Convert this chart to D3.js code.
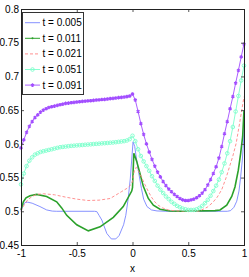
<!DOCTYPE html>
<html>
<head>
<meta charset="utf-8">
<script src="https://cdn.jsdelivr.net/npm/d3@7"></script>
<style>
  body { margin: 0; background: #fff; }
  svg { display: block; font-family: "Liberation Sans", Arial, sans-serif; }
</style>
</head>
<body>
<div id="chart"></div>
<script>
// shared grid for the two marked series (t = 0.051, t = 0.091)
const xGrid = [-1, -0.975, -0.95, -0.925, -0.9, -0.875, -0.85, -0.825, -0.8, -0.775,
  -0.75, -0.725, -0.7, -0.675, -0.65, -0.625, -0.6, -0.575, -0.55, -0.525,
  -0.5, -0.475, -0.45, -0.425, -0.4, -0.375, -0.35, -0.325, -0.3, -0.275,
  -0.25, -0.225, -0.2, -0.175, -0.15, -0.125, -0.1, -0.075, -0.05, -0.025,
  0, 0.025, 0.05, 0.075, 0.1, 0.125, 0.15, 0.175, 0.2, 0.225,
  0.25, 0.275, 0.3, 0.325, 0.35, 0.375, 0.4, 0.425, 0.45, 0.475,
  0.5, 0.525, 0.55, 0.575, 0.6, 0.625, 0.65, 0.675, 0.7, 0.725,
  0.75, 0.775, 0.8, 0.825, 0.85, 0.875, 0.9, 0.925, 0.95, 0.975, 1];

const y091 = [0.594, 0.606, 0.617, 0.626, 0.633, 0.639, 0.643, 0.647, 0.650, 0.652,
  0.654, 0.655, 0.656, 0.657, 0.658, 0.659, 0.660, 0.6605, 0.661, 0.6615,
  0.662, 0.6625, 0.663, 0.6633, 0.6637, 0.664, 0.6645, 0.665, 0.6653, 0.6657,
  0.666, 0.6665, 0.667, 0.6675, 0.668, 0.6685, 0.669, 0.6695, 0.670, 0.671,
  0.674, 0.665, 0.648, 0.630, 0.614, 0.600, 0.588, 0.577, 0.567, 0.558,
  0.551, 0.544, 0.538, 0.533, 0.529, 0.525, 0.522, 0.519, 0.517, 0.516,
  0.516, 0.517, 0.518, 0.520, 0.523, 0.527, 0.532, 0.539, 0.547, 0.556,
  0.566, 0.579, 0.596, 0.615, 0.633, 0.652, 0.670, 0.690, 0.709, 0.729, 0.748];

const y051 = [0.540, 0.556, 0.567, 0.575, 0.580, 0.584, 0.586, 0.588, 0.589, 0.590,
  0.591, 0.592, 0.593, 0.594, 0.595, 0.5955, 0.596, 0.5965, 0.597, 0.5973,
  0.5977, 0.598, 0.5983, 0.5987, 0.599, 0.5993, 0.5997, 0.600, 0.6003, 0.6007,
  0.601, 0.6013, 0.6017, 0.602, 0.6025, 0.603, 0.6035, 0.604, 0.605, 0.607,
  0.612, 0.604, 0.592, 0.582, 0.574, 0.567, 0.560, 0.552, 0.545, 0.538,
  0.532, 0.527, 0.522, 0.518, 0.514, 0.511, 0.508, 0.506, 0.504, 0.503,
  0.502, 0.502, 0.502, 0.503, 0.505, 0.508, 0.512, 0.517, 0.523, 0.530,
  0.538, 0.547, 0.558, 0.571, 0.586, 0.604, 0.625, 0.648, 0.671, 0.694, 0.716];

// unmarked series, read at their own x positions
const x005 = [-1, -0.985, -0.965, -0.94, -0.9, -0.83, -0.77, -0.72, -0.68, -0.34,
  -0.32, -0.3, -0.275, -0.23, -0.19, -0.15, -0.12, -0.08, -0.06, -0.04,
  -0.02, 0.005, 0.02, 0.04, 0.06, 0.08, 0.1, 0.13, 0.17, 0.22,
  0.3, 0.85, 0.88, 0.91, 0.935, 0.955, 0.97, 0.985, 0.995, 1];
const y005 = [0.500, 0.508, 0.513, 0.5135, 0.512, 0.507, 0.502, 0.5003, 0.500, 0.500,
  0.4995, 0.494, 0.487, 0.467, 0.459, 0.459, 0.464, 0.480, 0.494, 0.517,
  0.548, 0.603, 0.596, 0.573, 0.553, 0.534, 0.518, 0.507, 0.502, 0.5005,
  0.500, 0.500, 0.501, 0.506, 0.515, 0.530, 0.551, 0.576, 0.600, 0.625];

const x011 = [-1, -0.979, -0.955, -0.919, -0.859, -0.77, -0.68, -0.635, -0.59, -0.5,
  -0.396, -0.291, -0.172, -0.083, -0.007, 0, 0.012, 0.038, 0.067, 0.097,
  0.142, 0.187, 0.247, 0.336, 0.426, 0.74, 0.785, 0.845, 0.89, 0.919,
  0.949, 0.97, 0.988, 1];
const y011 = [0.502, 0.514, 0.520, 0.523, 0.525, 0.522, 0.514, 0.505, 0.494, 0.480,
  0.471, 0.477, 0.491, 0.507, 0.530, 0.535, 0.586, 0.574, 0.556, 0.537,
  0.519, 0.509, 0.503, 0.5005, 0.500, 0.501, 0.502, 0.509, 0.522, 0.536,
  0.561, 0.586, 0.611, 0.650];

const x021 = [-1, -0.97, -0.94, -0.9, -0.86, -0.8, -0.7, -0.6, -0.5, -0.4,
  -0.3, -0.2, -0.1, -0.05, -0.01, 0, 0.02, 0.035, 0.06, 0.08,
  0.11, 0.14, 0.17, 0.2, 0.23, 0.27, 0.32, 0.38, 0.45, 0.6,
  0.62, 0.67, 0.72, 0.76, 0.8, 0.84, 0.87, 0.9, 0.93, 0.96, 0.98, 1];
const y021 = [0.500, 0.510, 0.517, 0.522, 0.525, 0.526, 0.5245, 0.521, 0.518, 0.516,
  0.5165, 0.519, 0.529, 0.534, 0.540, 0.545, 0.563, 0.565, 0.558, 0.551,
  0.540, 0.530, 0.521, 0.514, 0.509, 0.505, 0.502, 0.5007, 0.5003, 0.5003,
  0.502, 0.506, 0.513, 0.521, 0.532, 0.550, 0.566, 0.582, 0.601, 0.630, 0.650, 0.670];

const legendLabels = ["t = 0.005", "t = 0.011", "t = 0.021", "t = 0.051", "t = 0.091"];
const xTicks = [-1, -0.5, 0, 0.5, 1];
const yTicks = [0.45, 0.5, 0.55, 0.6, 0.65, 0.7, 0.75, 0.8];

const width = 249, height = 277;
const plot = {left: 21, right: 244, top: 9, bottom: 245};

const svg = d3.select("#chart").append("svg")
    .attr("width", width)
    .attr("height", height);

const x = d3.scaleLinear().domain([-1, 1]).range([plot.left, plot.right]);
const y = d3.scaleLinear().domain([0.45, 0.8]).range([plot.bottom, plot.top]);

const series = [
  {xs: x005, ys: y005, color: "#7986ff", width: 0.9, dash: null, marker: null},
  {xs: x011, ys: y011, color: "#2ba12b", width: 1.6, dash: null, marker: "dot"},
  {xs: x021, ys: y021, color: "#ff8484", width: 0.9, dash: "3,2", marker: null},
  {xs: xGrid, ys: y051, color: "#7dffcc", width: 0.9, dash: null, marker: "circle"},
  {xs: xGrid, ys: y091, color: "#a24dff", width: 0.9, dash: null, marker: "star"}
];

const line = d3.line()
    .x(d => x(d[0]))
    .y(d => y(d[1]));

const star = d3.symbol().type(d3.symbolAsterisk).size(9);

function drawMarker(g, kind, color, cx, cy) {
  if (kind === "circle") {
    g.append("circle").attr("cx", cx).attr("cy", cy).attr("r", 1.8)
      .attr("fill", "none").attr("stroke", color).attr("stroke-width", 0.9);
  } else if (kind === "star") {
    g.append("path").attr("d", star()).attr("transform", `translate(${cx},${cy})`)
      .attr("fill", "none").attr("stroke", color).attr("stroke-width", 1.2);
  } else if (kind === "dot") {
    g.append("circle").attr("cx", cx).attr("cy", cy).attr("r", 1)
      .attr("fill", color);
  }
}

const plotG = svg.append("g");
series.forEach(s => {
  const pts = s.xs.map((v, i) => [v, s.ys[i]]);
  plotG.append("path")
    .datum(pts)
    .attr("d", line)
    .attr("fill", "none")
    .attr("stroke", s.color)
    .attr("stroke-width", s.width)
    .attr("stroke-dasharray", s.dash);
  if (s.marker === "circle" || s.marker === "star") {
    const mg = plotG.append("g");
    pts.forEach(p => drawMarker(mg, s.marker, s.color, x(p[0]), y(p[1])));
  }
});

// axes, ticks pointing inward on all four sides
const fmt = d => String(+d.toFixed(2));
svg.append("g")
    .attr("transform", `translate(0,${plot.bottom})`)
    .call(d3.axisBottom(x).tickValues(xTicks).tickFormat(fmt).tickSizeInner(-3).tickSizeOuter(0).tickPadding(5))
    .call(g => g.select(".domain").remove());
svg.append("g")
    .attr("transform", `translate(0,${plot.top})`)
    .call(d3.axisTop(x).tickValues(xTicks).tickFormat("").tickSizeInner(-3).tickSizeOuter(0))
    .call(g => g.select(".domain").remove());
svg.append("g")
    .attr("transform", `translate(${plot.left},0)`)
    .call(d3.axisLeft(y).tickValues(yTicks).tickFormat(fmt).tickSizeInner(-3).tickSizeOuter(0).tickPadding(2))
    .call(g => g.select(".domain").remove());
svg.append("g")
    .attr("transform", `translate(${plot.right},0)`)
    .call(d3.axisRight(y).tickValues(yTicks).tickFormat("").tickSizeInner(-3).tickSizeOuter(0))
    .call(g => g.select(".domain").remove());

svg.selectAll(".tick text").attr("font-size", 10).attr("fill", "#000").attr("font-family", "Liberation Sans, Arial, sans-serif");
svg.selectAll(".tick line").attr("stroke", "#555");

svg.append("rect")
    .attr("x", plot.left + 0.5).attr("y", plot.top + 0.5)
    .attr("width", plot.right - plot.left).attr("height", plot.bottom - plot.top)
    .attr("fill", "none").attr("stroke", "#222").attr("stroke-width", 1);

svg.append("text")
    .attr("x", x(0)).attr("y", 272)
    .attr("text-anchor", "middle")
    .attr("font-size", 10)
    .text("x");

// legend
const lg = svg.append("g");
lg.append("rect")
    .attr("x", 22.5).attr("y", 12.5).attr("width", 61).attr("height", 82)
    .attr("fill", "#fff").attr("stroke", "#333").attr("stroke-width", 1);
series.forEach((s, i) => {
  const ly = 22.7 + i * 15.6;
  lg.append("line")
    .attr("x1", 25).attr("x2", 40).attr("y1", ly).attr("y2", ly)
    .attr("stroke", s.color).attr("stroke-width", s.marker === "dot" ? 1 : s.width)
    .attr("stroke-dasharray", s.dash);
  drawMarker(lg, s.marker, s.color, 32.5, ly);
  lg.append("text")
    .attr("x", 42.5).attr("y", ly).attr("dy", "0.35em")
    .attr("font-size", 10)
    .text(legendLabels[i]);
});
</script>
</body>
</html>
